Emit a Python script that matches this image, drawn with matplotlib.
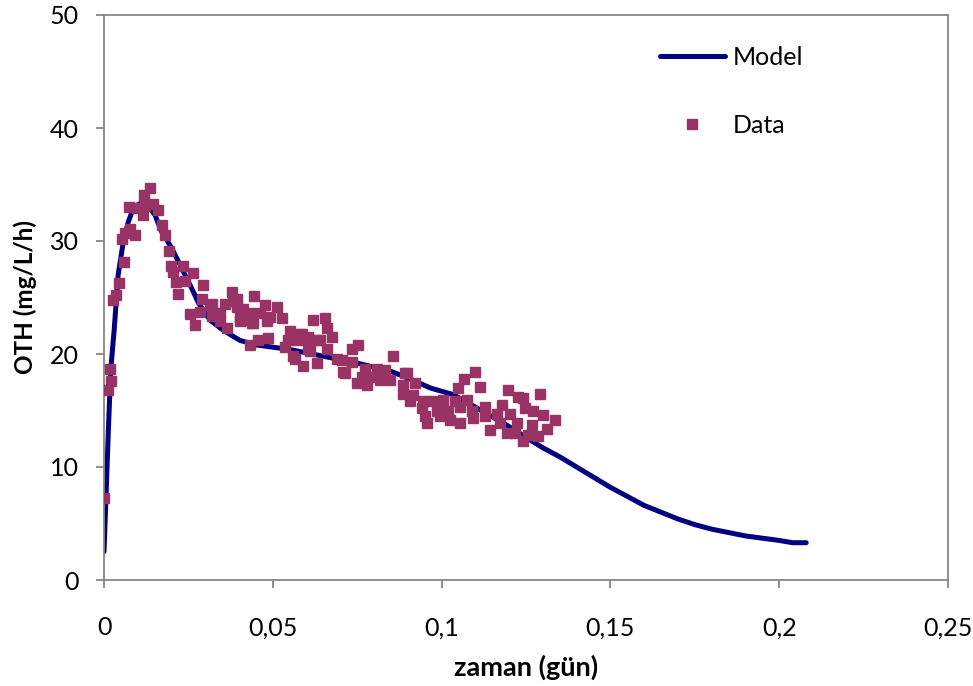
import matplotlib
matplotlib.use("Agg")
import matplotlib.pyplot as plt
from matplotlib.ticker import FuncFormatter

# Model curve
model_x = [0, 0.0006, 0.0013, 0.002, 0.003, 0.0042, 0.0057, 0.0072, 0.0087, 0.0105,
           0.0121, 0.0136, 0.0151, 0.0171, 0.020, 0.0225, 0.026, 0.028, 0.0314, 0.0353,
           0.0403, 0.0452, 0.055, 0.065, 0.0749, 0.0847, 0.0906, 0.0966, 0.1035, 0.110,
           0.1193, 0.1262, 0.130, 0.135, 0.140, 0.145, 0.150, 0.155, 0.160, 0.165,
           0.170, 0.175, 0.180, 0.185, 0.190, 0.195, 0.200, 0.204, 0.208]
model_y = [2.5, 7.4, 13.3, 18.6, 22.1, 27.0, 29.9, 31.7, 32.9, 33.3,
           33.2, 32.9, 32.3, 30.8, 29.4, 27.9, 25.8, 24.5, 23.0, 22.1,
           21.2, 20.8, 20.4, 19.8, 19.2, 18.5, 17.8, 17.0, 16.4, 15.3,
           13.7, 12.4, 11.7, 10.9, 10.0, 9.1, 8.2, 7.4, 6.6, 6.0,
           5.4, 4.9, 4.5, 4.2, 3.9, 3.7, 3.5, 3.3, 3.3]

# Measured data
data_x = [0.0000, 0.0012, 0.0018, 0.0021, 0.0028, 0.0035, 0.0044, 0.0052, 0.0060, 0.0062,
          0.0074, 0.0077, 0.0092, 0.0097, 0.0116, 0.0119, 0.0121, 0.0136, 0.0146, 0.0161,
          0.0171, 0.0181, 0.0193, 0.0198, 0.0205, 0.0212, 0.0220, 0.0235, 0.0240, 0.0255,
          0.0265, 0.0270, 0.0284, 0.0289, 0.0294, 0.0314, 0.0319, 0.0319, 0.0344, 0.0344,
          0.0358, 0.0363, 0.0378, 0.0383, 0.0393, 0.0393, 0.0403, 0.0403, 0.0408, 0.0413,
          0.0432, 0.0432, 0.0437, 0.0442, 0.0444, 0.0457, 0.0462, 0.0477, 0.0482, 0.0487,
          0.0492, 0.0512, 0.0526, 0.0536, 0.0546, 0.0551, 0.0561, 0.0566, 0.0571, 0.0581,
          0.0586, 0.0590, 0.0600, 0.0605, 0.0605, 0.0610, 0.0620, 0.0630, 0.0635, 0.0640,
          0.0655, 0.0660, 0.0660, 0.0674, 0.0689, 0.0704, 0.0709, 0.0714, 0.0734, 0.0734,
          0.0749, 0.0753, 0.0763, 0.0773, 0.0778, 0.0788, 0.0808, 0.0818, 0.0832, 0.0847,
          0.0857, 0.0887, 0.0887, 0.0892, 0.0897, 0.0906, 0.0916, 0.0921, 0.0941, 0.0946,
          0.0951, 0.0956, 0.0971, 0.0985, 0.0995, 0.1005, 0.1020, 0.1025, 0.1040, 0.1049,
          0.1055, 0.1055, 0.1066, 0.1074, 0.1089, 0.1094, 0.1099, 0.1114, 0.1129, 0.1129,
          0.1143, 0.1163, 0.1173, 0.1178, 0.1193, 0.1198, 0.1203, 0.1217, 0.1222, 0.1227,
          0.1242, 0.1242, 0.1247, 0.1257, 0.1267, 0.1272, 0.1286, 0.1291, 0.1301, 0.1311,
          0.1336]
data_y = [7.3, 16.8, 18.7, 17.6, 24.8, 25.2, 26.3, 30.2, 28.1, 30.7,
          33.0, 31.1, 30.5, 32.9, 32.3, 34.1, 33.1, 34.7, 33.3, 32.7,
          31.4, 30.5, 29.1, 27.8, 27.3, 26.4, 25.3, 27.8, 26.5, 23.5,
          27.2, 22.6, 23.7, 24.9, 26.1, 24.3, 24.4, 23.4, 23.6, 22.9,
          24.4, 22.3, 25.5, 24.7, 24.9, 24.2, 23.3, 22.9, 23.0, 24.0,
          23.6, 20.8, 22.7, 22.7, 25.1, 21.2, 23.6, 24.3, 22.9, 21.4,
          23.3, 24.2, 23.2, 20.6, 21.2, 22.0, 19.8, 19.6, 21.2, 21.8,
          21.8, 18.9, 21.3, 21.5, 20.4, 20.3, 23.0, 19.2, 21.2, 21.2,
          23.2, 22.3, 20.4, 21.5, 19.6, 19.5, 18.4, 18.3, 20.4, 19.3,
          17.4, 20.8, 18.0, 18.7, 17.3, 18.0, 18.7, 17.7, 18.6, 17.7,
          19.8, 16.5, 17.3, 18.3, 18.3, 15.8, 16.4, 17.4, 15.2, 15.8,
          14.5, 13.9, 15.8, 15.0, 14.5, 15.9, 15.0, 14.2, 15.8, 17.0,
          15.3, 13.9, 17.8, 15.9, 15.0, 14.3, 18.4, 17.1, 15.3, 14.5,
          13.3, 14.7, 13.9, 15.5, 13.0, 16.8, 14.7, 13.0, 13.9, 16.2,
          16.1, 12.3, 15.2, 12.8, 13.7, 15.0, 12.7, 16.5, 14.6, 13.4,
          14.2]

x_ticks = [0, 0.05, 0.10, 0.15, 0.20, 0.25]
y_ticks = [0, 10, 20, 30, 40, 50]

plt.rcParams['font.family'] = ['Lato', 'DejaVu Sans']

fig = plt.figure(figsize=(9.73, 6.86), dpi=100)
ax = fig.add_axes([104/973, 1-580/686, (948-104)/973, (580-15)/686])

ax.plot(model_x, model_y, color='#000080', lw=3.6, label='Model', zorder=2,
        solid_capstyle='round')
ax.plot(data_x, data_y, ls='none', marker='s', ms=7.3, color='#993366',
        mec='#993366', label='Data', zorder=3)

ax.set_xlim(0, 0.25)
ax.set_ylim(0, 50)
ax.set_xticks(x_ticks)
ax.set_yticks(y_ticks)

def fmt(v, pos):
    s = ('%.2f' % v).rstrip('0').rstrip('.')
    return s.replace('.', ',')
ax.xaxis.set_major_formatter(FuncFormatter(fmt))

for sp in ax.spines.values():
    sp.set_color('#868686')
    sp.set_linewidth(1.3)
ax.tick_params(direction='out', length=6, width=1.3, color='#868686',
               labelsize=18, labelcolor='black')
ax.tick_params(axis='x', pad=20)
ax.tick_params(axis='y', pad=12)

ax.set_xlabel('zaman (gün)', fontsize=19.5, fontweight='bold', labelpad=11)
ax.set_ylabel('OTH (mg/L/h)', fontsize=17.5, fontweight='bold', labelpad=9)

leg = ax.legend(loc='upper left', bbox_to_anchor=(0.632, 0.985), frameon=False,
                fontsize=18, labelspacing=1.8, handlelength=2.6, handletextpad=0.3)

fig.savefig('out.png', dpi=100)
